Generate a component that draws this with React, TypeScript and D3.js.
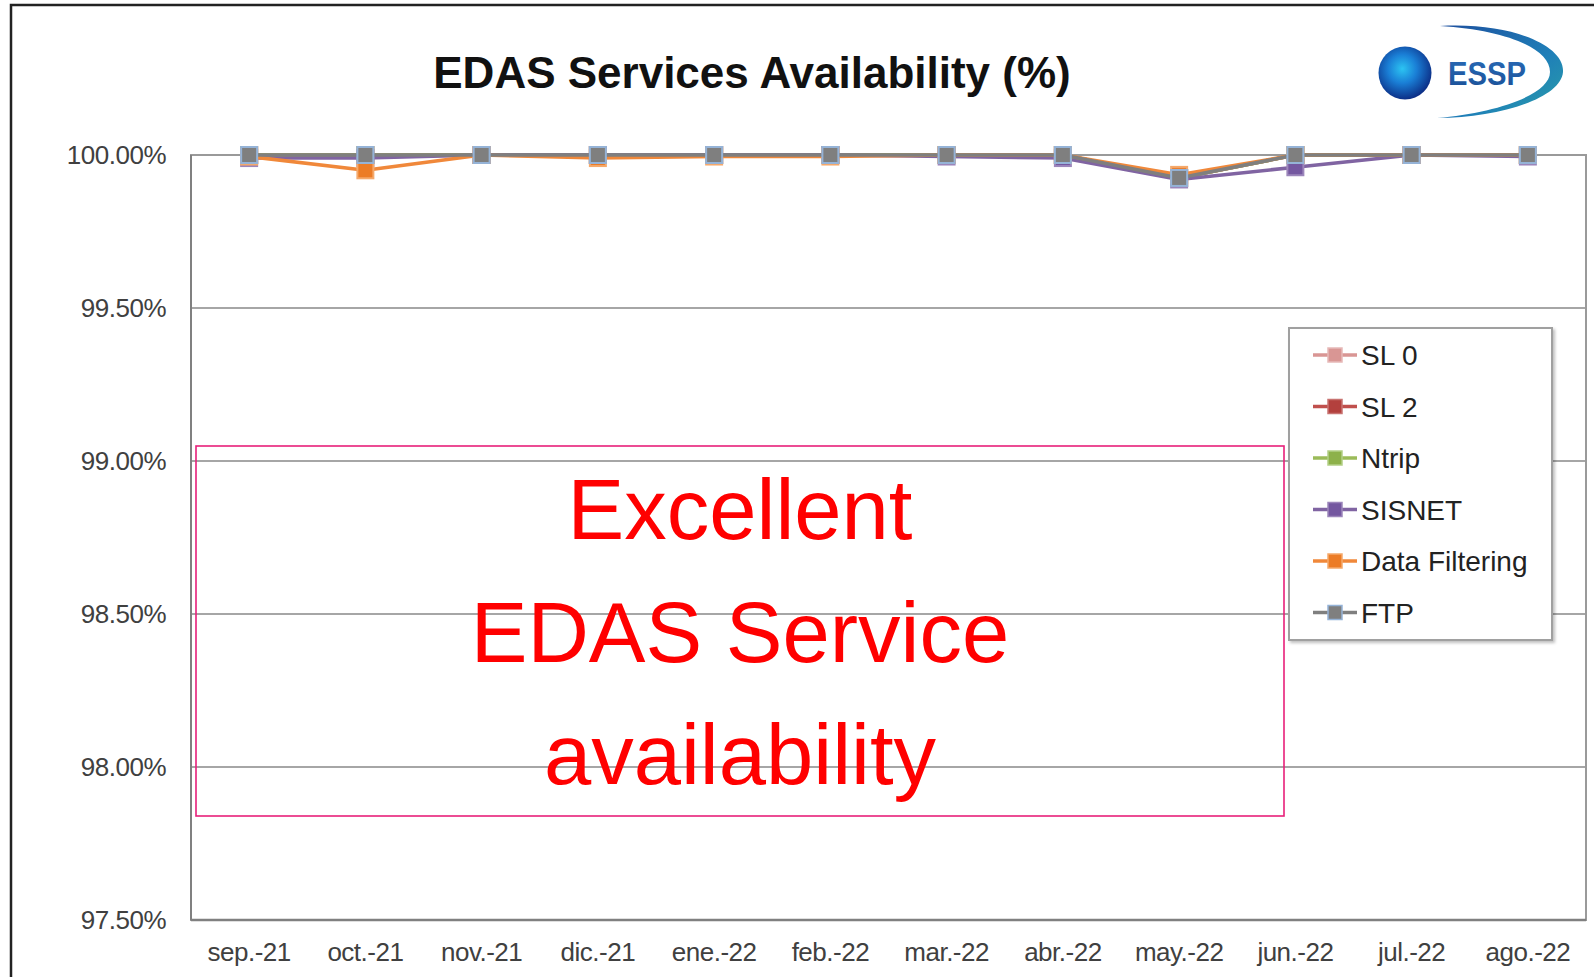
import React from "react";
import * as d3 from "d3";

const months = [
  "sep.-21", "oct.-21", "nov.-21", "dic.-21", "ene.-22", "feb.-22",
  "mar.-22", "abr.-22", "may.-22", "jun.-22", "jul.-22", "ago.-22",
];

const sl0 = [100, 100, 100, 100, 100, 100, 100, 100, 99.925, 100, 100, 100];
const sl2 = [100, 100, 100, 100, 100, 100, 100, 100, 99.925, 100, 100, 100];
const ntrip = [100, 100, 100, 100, 100, 100, 100, 100, 99.925, 100, 100, 100];
const sisnet = [99.99, 99.99, 100, 100, 100, 100, 99.995, 99.99, 99.92, 99.96, 100, 99.995];
const dataFiltering = [99.995, 99.95, 100, 99.99, 99.995, 99.995, 100, 100, 99.935, 100, 100, 100];
const ftp = [100, 100, 100, 100, 100, 100, 100, 100, 99.925, 100, 100, 100];

const yTicks = [97.5, 98, 98.5, 99, 99.5, 100];

const seriesNames = ["SL 0", "SL 2", "Ntrip", "SISNET", "Data Filtering", "FTP"];
const seriesValues = [sl0, sl2, ntrip, sisnet, dataFiltering, ftp];
const lineColors = ["#d99694", "#c0504d", "#9bbb59", "#8064a2", "#f0883a", "#7f7f7f"];
const markerColors = ["#d99694", "#b3403d", "#8db14a", "#7457a0", "#ec7c26", "#7f7f7f"];
const markerStrokes = ["#e6b9b8", "#c87371", "#b3cf86", "#9c86bb", "#f5a96b", "#95b3d7"];

const annotation = ["Excellent", "EDAS Service", "availability"];

const W = 1594;
const H = 977;
const plot = { left: 191, right: 1586, top: 155, bottom: 920 };
const font = "'Liberation Sans', Arial, sans-serif";

export default function App() {
  const x = d3
    .scaleBand<string>()
    .domain(months)
    .range([plot.left, plot.right])
    .padding(0);
  const cx = (m: string) => (x(m) ?? 0) + x.bandwidth() / 2;

  const y = d3.scaleLinear().domain([97.5, 100]).range([plot.bottom, plot.top]);

  const line = d3
    .line<number>()
    .x((_, i) => cx(months[i]))
    .y((d) => y(d));

  const ms = 16;

  // legend layout
  const legend = { x: 1289, y: 328, w: 263, h: 312, step: 51.5, first: 355 };

  return (
    <svg
      width={W}
      height={H}
      style={{ position: "absolute", left: 0, top: 0, display: "block", background: "#fff" }}
    >
      <defs>
        <radialGradient id="sphere" cx="45%" cy="42%" r="60%">
          <stop offset="0%" stopColor="#2cc4f2" />
          <stop offset="45%" stopColor="#1a7fd6" />
          <stop offset="100%" stopColor="#0b2a82" />
        </radialGradient>
        <linearGradient id="swoosh" x1="0" y1="0" x2="1" y2="1">
          <stop offset="0%" stopColor="#1d4f9e" />
          <stop offset="60%" stopColor="#1f7fb8" />
          <stop offset="100%" stopColor="#2aa0a8" />
        </linearGradient>
        <linearGradient id="essp" x1="0" y1="0" x2="0" y2="1">
          <stop offset="0%" stopColor="#2a6cb8" />
          <stop offset="100%" stopColor="#1a4f96" />
        </linearGradient>
        <filter id="shadow" x="-5%" y="-5%" width="115%" height="115%">
          <feDropShadow dx="2" dy="2" stdDeviation="1.5" floodColor="#000" floodOpacity="0.25" />
        </filter>
      </defs>

      {/* outer frame */}
      <rect x={11} y={5} width={W} height={H + 20} fill="none" stroke="#222" strokeWidth={2.5} />

      {/* title */}
      <text
        x={752}
        y={88}
        textAnchor="middle"
        fontFamily={font}
        fontWeight="bold"
        fontSize={44}
        fill="#111"
      >
        EDAS Services Availability (%)
      </text>

      {/* ESSP logo */}
      <path
        d="M1440,26 C1510,22 1565,45 1563,72 C1561,98 1500,118 1437,118 C1495,113 1550,95 1550,72 C1550,48 1505,30 1440,26 Z"
        fill="url(#swoosh)"
      />
      <circle cx={1405} cy={73} r={26.5} fill="url(#sphere)" />
      <text
        x={1448}
        y={85}
        fontFamily={font}
        fontWeight="bold"
        fontSize={34}
        textLength={78}
        lengthAdjust="spacingAndGlyphs"
        fill="url(#essp)"
      >
        ESSP
      </text>

      {/* grid */}
      {yTicks.map((t) => (
        <line
          key={t}
          x1={plot.left}
          x2={plot.right}
          y1={y(t)}
          y2={y(t)}
          stroke="#a6a6a6"
          strokeWidth={2}
        />
      ))}
      <rect
        x={plot.left}
        y={plot.top}
        width={plot.right - plot.left}
        height={plot.bottom - plot.top}
        fill="none"
        stroke="#9a9a9a"
        strokeWidth={2}
      />
      <line x1={plot.left} x2={plot.left} y1={plot.top} y2={plot.bottom} stroke="#808080" strokeWidth={2} />
      <line x1={plot.left} x2={plot.right} y1={plot.bottom} y2={plot.bottom} stroke="#808080" strokeWidth={2.5} />

      {/* y tick labels */}
      {yTicks.map((t) => (
        <text
          key={t}
          x={166}
          y={y(t) + 9}
          textAnchor="end"
          fontFamily={font}
          fontSize={26}
          letterSpacing={-0.5}
          fill="#404040"
        >
          {t.toFixed(2)}%
        </text>
      ))}

      {/* x tick labels */}
      {months.map((m) => (
        <text
          key={m}
          x={cx(m)}
          y={961}
          textAnchor="middle"
          fontFamily={font}
          fontSize={26}
          letterSpacing={-0.5}
          fill="#404040"
        >
          {m}
        </text>
      ))}

      {/* series */}
      {seriesValues.map((vals, s) => (
        <g key={seriesNames[s]}>
          <path d={line(vals) ?? ""} fill="none" stroke={lineColors[s]} strokeWidth={3.6} strokeLinejoin="round" />
          {vals.map((v, i) => (
            <rect
              key={i}
              x={cx(months[i]) - ms / 2}
              y={y(v) - ms / 2}
              width={ms}
              height={ms}
              fill={markerColors[s]}
              stroke={markerStrokes[s]}
              strokeWidth={2}
            />
          ))}
        </g>
      ))}

      {/* annotation box */}
      <rect x={196} y={446} width={1088} height={370} fill="none" stroke="#e8207a" strokeWidth={1.6} />
      {annotation.map((t, i) => (
        <text
          key={t}
          x={740}
          y={539 + i * 122.5}
          textAnchor="middle"
          fontFamily={font}
          fontSize={85}
          fill="#ff0000"
        >
          {t}
        </text>
      ))}

      {/* legend */}
      <g filter="url(#shadow)">
        <rect x={legend.x} y={legend.y} width={legend.w} height={legend.h} fill="#fff" stroke="#a0a0a0" strokeWidth={2} />
      </g>
      {seriesNames.map((n, i) => {
        const ly = legend.first + i * legend.step;
        return (
          <g key={n}>
            <line x1={1313} x2={1357} y1={ly} y2={ly} stroke={lineColors[i]} strokeWidth={3.6} />
            <rect
              x={1335 - 7}
              y={ly - 7}
              width={14}
              height={14}
              fill={markerColors[i]}
              stroke={markerStrokes[i]}
              strokeWidth={1.5}
            />
            <text x={1361} y={ly + 10} fontFamily={font} fontSize={28} fill="#222">
              {n}
            </text>
          </g>
        );
      })}
    </svg>
  );
}
